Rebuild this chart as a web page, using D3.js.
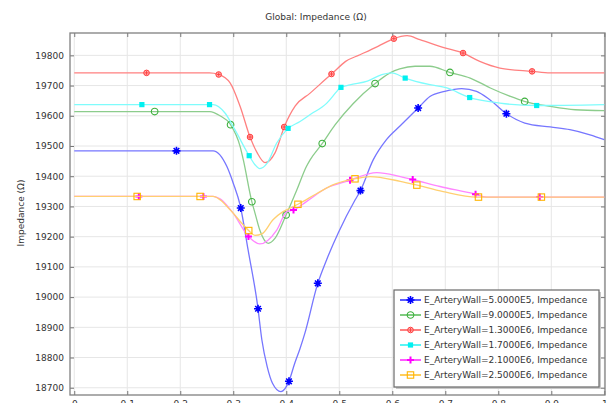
<!DOCTYPE html>
<html>
<head>
<meta charset="utf-8">
<style>
body { margin: 0; background: #fff; }
text { font-family: 'DejaVu Sans', sans-serif; }
.axis .domain { display: none; }
.axis line { stroke: #777; }
.axis text { fill: #333; font-size: 9px; }
.grid line { stroke: #e6e6e6; }
</style>
</head>
<body>
<svg width="614" height="403"></svg>
<script src="https://d3js.org/d3.v7.min.js"></script>
<script>
// tick values
var xTicks = [0, 0.1, 0.2, 0.3, 0.4, 0.5, 0.6, 0.7, 0.8, 0.9, 1];
var yTicks = [18700, 18800, 18900, 19000, 19100, 19200, 19300, 19400, 19500, 19600, 19700, 19800];

var labels = ["E_ArteryWall=5.0000E5, Impedance", "E_ArteryWall=9.0000E5, Impedance",
  "E_ArteryWall=1.3000E6, Impedance", "E_ArteryWall=1.7000E6, Impedance",
  "E_ArteryWall=2.1000E6, Impedance", "E_ArteryWall=2.5000E6, Impedance"];

// impedance curves, [x, ohm]
var imp5e5 = [[0,19484],[0.262,19484],[0.288,19432],[0.300,19377],[0.313,19304],[0.328,19156],[0.346,18971],
  [0.354,18858],[0.364,18770],[0.374,18715],[0.390,18687],[0.398,18698],[0.404,18717],[0.416,18781],[0.426,18830],
  [0.435,18880],[0.459,19043],[0.476,19123],[0.498,19212],[0.530,19322],[0.539,19349],[0.564,19454],[0.589,19521],
  [0.615,19567],[0.649,19626],[0.671,19664],[0.699,19681],[0.731,19690],[0.759,19681],[0.784,19653],[0.816,19606],
  [0.850,19576],[0.898,19563],[0.935,19554],[0.973,19537],[1.0,19521]];
var imp9e5 = [[0,19614],[0.256,19614],[0.275,19600],[0.294,19573],[0.313,19498],[0.319,19454],[0.335,19316],
  [0.341,19278],[0.350,19222],[0.366,19178],[0.379,19195],[0.399,19269],[0.420,19355],[0.438,19432],[0.445,19454],
  [0.467,19506],[0.492,19570],[0.526,19640],[0.567,19706],[0.596,19742],[0.614,19755],[0.643,19764],[0.671,19764],
  [0.708,19744],[0.747,19725],[0.785,19692],[0.823,19664],[0.849,19648],[0.898,19631],[0.945,19620],[1.0,19617]];
var imp13e5 = [[0,19742],[0.255,19742],[0.272,19737],[0.294,19709],[0.313,19631],[0.332,19528],[0.345,19478],
  [0.360,19445],[0.379,19478],[0.397,19567],[0.417,19633],[0.445,19675],[0.473,19719],[0.489,19744],[0.512,19780],
  [0.539,19802],[0.573,19830],[0.601,19854],[0.628,19865],[0.652,19852],[0.699,19825],[0.733,19808],[0.765,19780],
  [0.803,19758],[0.864,19747],[0.898,19742],[1.0,19742]];
var imp17e5 = [[0,19637],[0.262,19637],[0.284,19610],[0.303,19554],[0.329,19471],[0.341,19438],[0.350,19425],
  [0.364,19443],[0.382,19510],[0.402,19556],[0.426,19581],[0.446,19605],[0.476,19641],[0.495,19680],[0.501,19692],
  [0.520,19702],[0.553,19715],[0.582,19737],[0.599,19742],[0.624,19725],[0.671,19703],[0.703,19692],[0.745,19661],
  [0.803,19642],[0.871,19634],[1.0,19637]];
var imp21e5 = [[0,19333],[0.262,19333],[0.275,19325],[0.298,19282],[0.330,19198],[0.350,19176],[0.382,19222],
  [0.401,19283],[0.415,19289],[0.438,19316],[0.476,19361],[0.517,19385],[0.571,19412],[0.615,19399],[0.637,19390],
  [0.690,19366],[0.754,19342],[0.778,19331],[0.877,19331],[1.0,19331]];
var imp25e5 = [[0,19333],[0.262,19333],[0.275,19322],[0.294,19289],[0.330,19219],[0.341,19204],[0.354,19209],
  [0.375,19256],[0.394,19283],[0.407,19294],[0.423,19308],[0.457,19342],[0.489,19372],[0.526,19390],[0.558,19399],
  [0.615,19383],[0.643,19372],[0.696,19349],[0.759,19331],[0.879,19331],[1.0,19331]];

var allSeries = [imp5e5, imp9e5, imp13e5, imp17e5, imp21e5, imp25e5];
var lineColors = ["#7676ff", "#8ccc8c", "#ff8080", "#7ffcfc", "#ff86ff", "#ffcf70"];
var markColors = ["#0000ff", "#3cb03c", "#ff3c3c", "#00f0f0", "#ff00ff", "#ffb400"];
var markTypes = ["star", "circle", "dot", "square", "plus", "box"];

var svg = d3.select("svg"),
    margin = {top: 33, right: 9, bottom: 8, left: 70},
    width = +svg.attr("width") - margin.left - margin.right,
    height = +svg.attr("height") - margin.top - margin.bottom,
    g = svg.append("g").attr("transform", "translate(" + margin.left + "," + margin.top + ")");

var x = d3.scaleLinear().domain([-0.008, 1.0013]).range([0, width]);
var y = d3.scaleLinear().domain([18676, 19874]).range([height, 0]);

// grid
g.append("g").attr("class", "grid")
  .selectAll("line").data(xTicks).enter().append("line")
    .attr("x1", function(d) { return x(d); }).attr("x2", function(d) { return x(d); })
    .attr("y1", 0).attr("y2", height);
g.append("g").attr("class", "grid")
  .selectAll("line").data(yTicks).enter().append("line")
    .attr("y1", function(d) { return y(d); }).attr("y2", function(d) { return y(d); })
    .attr("x1", 0).attr("x2", width);

// axes, ticks pointing inward
g.append("g").attr("class", "axis")
    .attr("transform", "translate(0," + height + ")")
    .call(d3.axisBottom(x).tickValues(xTicks).tickSize(-4).tickPadding(6).tickFormat(d3.format("~g")));
g.append("g").attr("class", "axis")
    .call(d3.axisTop(x).tickValues(xTicks).tickSize(-4).tickFormat(""));
g.append("g").attr("class", "axis")
    .call(d3.axisLeft(y).tickValues(yTicks).tickSize(-4).tickPadding(6).tickFormat(d3.format("d")));
g.append("g").attr("class", "axis")
    .attr("transform", "translate(" + width + ",0)")
    .call(d3.axisRight(y).tickValues(yTicks).tickSize(-4).tickFormat(""));

g.append("rect")
    .attr("width", width).attr("height", height)
    .attr("fill", "none").attr("stroke", "#808080").attr("stroke-width", 1.3);

// marker drawing
function marker(sel, type, color) {
  if (type == "star") {
    sel.append("path").attr("d", "M-4,0L4,0M0,-4L0,4M-2.8,-2.8L2.8,2.8M-2.8,2.8L2.8,-2.8")
      .attr("stroke", color).attr("stroke-width", 1.6).attr("fill", "none");
  } else if (type == "circle") {
    sel.append("circle").attr("r", 3.3).attr("fill", "none").attr("stroke", color).attr("stroke-width", 1.1);
  } else if (type == "dot") {
    sel.append("circle").attr("r", 2.8).attr("fill", "#ffb0b0").attr("stroke", color).attr("stroke-width", 1);
    sel.append("path").attr("d", "M-2,0L2,0M0,-2L0,2").attr("stroke", color).attr("stroke-width", 0.9);
  } else if (type == "square") {
    sel.append("rect").attr("x", -2.6).attr("y", -2.6).attr("width", 5.2).attr("height", 5.2).attr("fill", color);
  } else if (type == "plus") {
    sel.append("path").attr("d", "M-3.5,0L3.5,0M0,-3.5L0,3.5")
      .attr("stroke", color).attr("stroke-width", 2).attr("fill", "none");
  } else {
    sel.append("rect").attr("x", -3.2).attr("y", -3.2).attr("width", 6.4).attr("height", 6.4)
      .attr("fill", "none").attr("stroke", color).attr("stroke-width", 1.1);
  }
}

var line = d3.line()
    .x(function(d) { return x(d[0]); })
    .y(function(d) { return y(d[1]); })
    .curve(d3.curveMonotoneX);

allSeries.forEach(function(data, i) {
  var path = g.append("path")
      .datum(data)
      .attr("fill", "none")
      .attr("stroke", lineColors[i])
      .attr("stroke-width", 1.3)
      .attr("d", line);
  // markers evenly spaced along the curve length
  var node = path.node(), L = node.getTotalLength();
  for (var k = 1; k <= 8; k++) {
    var p = node.getPointAtLength(L * k / 9);
    marker(g.append("g").attr("transform", "translate(" + p.x + "," + p.y + ")"), markTypes[i], markColors[i]);
  }
});

// title and y label
svg.append("text")
    .attr("x", 316).attr("y", 20)
    .attr("text-anchor", "middle")
    .attr("font-size", "9px").attr("fill", "#333")
    .text("Global: Impedance (\u03A9)");
svg.append("text")
    .attr("transform", "translate(21,213) rotate(-90)")
    .attr("dy", "0.35em")
    .attr("text-anchor", "middle")
    .attr("font-size", "9px").attr("fill", "#333")
    .text("Impedance (\u03A9)");

// legend
var legend = svg.append("g").attr("transform", "translate(394,290)");
legend.append("rect").attr("x", 2).attr("y", 2).attr("width", 205).attr("height", 97).attr("fill", "#c8c8c8");
legend.append("rect").attr("width", 205).attr("height", 97)
    .attr("fill", "#fff").attr("stroke", "#6a6a6a").attr("stroke-width", 1.2);

var item = legend.selectAll("g.item")
    .data(labels)
  .enter().append("g")
    .attr("class", "item")
    .attr("transform", function(d, i) { return "translate(0," + (10 + i * 15) + ")"; });

item.append("line")
    .attr("x1", 6).attr("x2", 27)
    .attr("stroke", function(d, i) { return markColors[i]; })
    .attr("stroke-width", 1.3);
item.each(function(d, i) {
  marker(d3.select(this).append("g").attr("transform", "translate(16.5,0)"), markTypes[i], markColors[i]);
});
item.append("text")
    .attr("x", 30)
    .attr("dy", "0.35em")
    .attr("font-size", "9px").attr("fill", "#333")
    .text(function(d) { return d; });
</script>
</body>
</html>
